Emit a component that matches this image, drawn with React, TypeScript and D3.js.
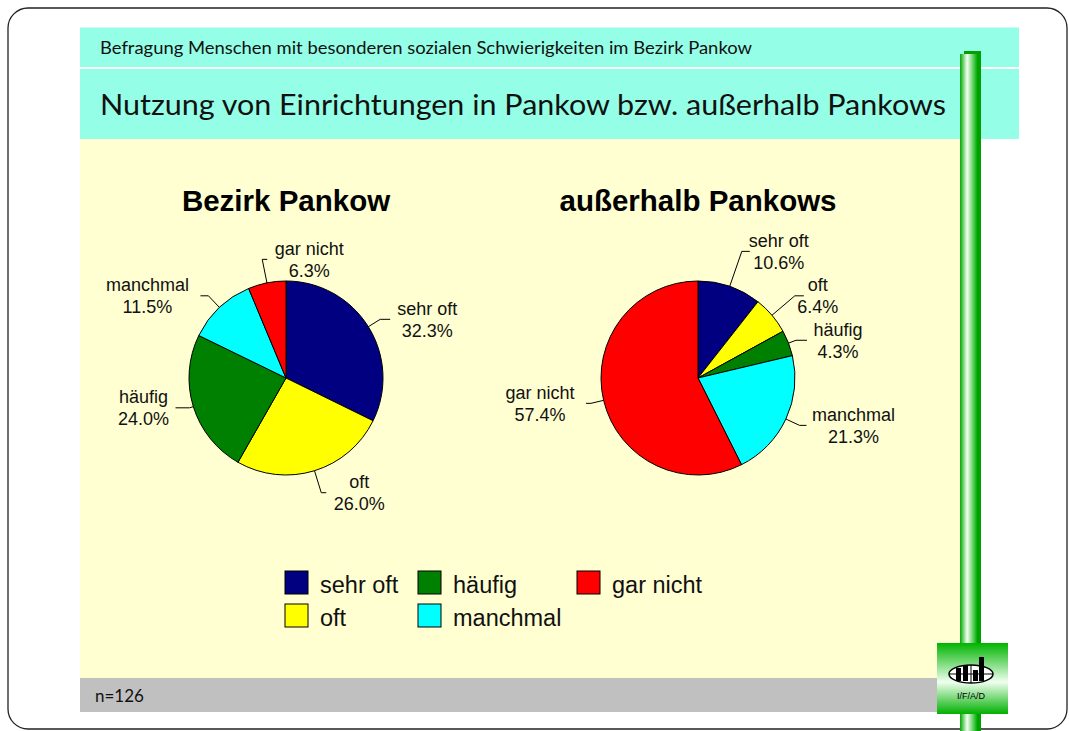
import React from "react";
import * as d3 from "d3";

const categories = ["sehr oft", "oft", "häufig", "manchmal", "gar nicht"];
const pankowValues = [32.3, 26.0, 24.0, 11.5, 6.3];
const outsideValues = [10.6, 6.4, 4.3, 21.3, 57.4];
const sliceColors = ["#000080", "#ffff00", "#008000", "#00ffff", "#ff0000"];
const chartTitles = ["Bezirk Pankow", "außerhalb Pankows"];
const headerSubtitle = "Befragung Menschen mit besonderen sozialen Schwierigkeiten im Bezirk Pankow";
const headerTitle = "Nutzung von Einrichtungen in Pankow bzw. außerhalb Pankows";
const footerText = "n=126";
const legendOrder = [0, 1, 2, 3, 4];

// label layout: radial extension to elbow, side, horizontal tick length, label offset
const labelLayout1 = [
  { ext: 14, side: 1, h: 10, dx: 37 },
  { ext: 23, side: 1, h: 5, dx: 33 },
  { ext: 4, side: -1, h: 14, dx: 32 },
  { ext: 16, side: -1, h: 8, dx: 53 },
  { ext: 24, side: 1, h: 5, dx: 42 },
];
const labelLayout2 = [
  { ext: 37, side: 1, h: 8, dx: 29 },
  { ext: 30, side: 1, h: 9, dx: 14 },
  { ext: 8, side: 1, h: 11, dx: 31 },
  { ext: 15, side: 1, h: 7, dx: 47 },
  { ext: 13, side: -1, h: 5, dx: 46 },
];

const W = 1069;
const H = 731;
const R = 97;
const LABEL_FONT = "'Liberation Sans', Arial, sans-serif";
const HEAD_FONT = "Lato, 'Open Sans', sans-serif";

function Pie({ cx, cy, values, layout, title }: any) {
  const pie = d3.pie<number>().sort(null).value((d) => d).startAngle(0).endAngle(2 * Math.PI);
  const arcs = pie(values);
  const arc = d3.arc<any>().innerRadius(0).outerRadius(R);
  const pt = (a: number, r: number) => [Math.sin(a) * r, -Math.cos(a) * r];
  return (
    <g transform={`translate(${cx},${cy})`}>
      <text x={0} y={-167} textAnchor="middle" fontFamily={LABEL_FONT} fontWeight="bold" fontSize={29.5} fill="#000">
        {title}
      </text>
      {arcs.map((a, i) => (
        <path key={i} d={arc(a) || ""} fill={sliceColors[i]} stroke="#000" strokeWidth={1} strokeLinejoin="round" />
      ))}
      {arcs.map((a, i) => {
        const L = layout[i];
        const mid = (a.startAngle + a.endAngle) / 2;
        const p0 = pt(mid, R);
        const p1 = pt(mid, R + L.ext);
        const p2 = [p1[0] + L.side * L.h, p1[1]];
        const lx = p1[0] + L.side * (L.h + L.dx);
        const ly = p1[1];
        return (
          <g key={"l" + i}>
            <polyline points={`${p0[0]},${p0[1]} ${p1[0]},${p1[1]} ${p2[0]},${p2[1]}`} fill="none" stroke="#000" strokeWidth={1} />
            <text x={lx} y={ly - 4.5} textAnchor="middle" fontFamily={LABEL_FONT} fontSize={18} fill="#111">
              {categories[i]}
            </text>
            <text x={lx} y={ly + 17.5} textAnchor="middle" fontFamily={LABEL_FONT} fontSize={18} fill="#111">
              {values[i].toFixed(1) + "%"}
            </text>
          </g>
        );
      })}
    </g>
  );
}

export default function App() {
  const legendCols = [285, 418, 577];
  const legendRows = [571, 604];
  return (
    <svg width={W} height={H} style={{ position: "absolute", left: 0, top: 0, background: "#fff" }}>
      <defs>
        <linearGradient id="barGrad" x1="0" x2="1" y1="0" y2="0">
          <stop offset="0" stopColor="#00a800" />
          <stop offset="0.42" stopColor="#f4fff4" />
          <stop offset="1" stopColor="#00b000" />
        </linearGradient>
        <linearGradient id="logoGrad" x1="0" x2="0" y1="0" y2="1">
          <stop offset="0" stopColor="#00b400" />
          <stop offset="0.55" stopColor="#f0fff0" />
          <stop offset="1" stopColor="#00b000" />
        </linearGradient>
      </defs>
      <rect x={8} y={8} width={1059} height={721} rx={20} ry={20} fill="#fff" stroke="#222" strokeWidth={1.3} />
      {/* header */}
      <rect x={80} y={27.5} width={939} height={39.5} fill="#94ffe6" />
      <rect x={80} y={69} width={939} height={70} fill="#94ffe6" />
      <text x={100} y={54} fontFamily={HEAD_FONT} fontSize={16.5} fill="#111" textLength={652} lengthAdjust="spacingAndGlyphs">
        {headerSubtitle}
      </text>
      <text x={100} y={115} fontFamily={HEAD_FONT} fontSize={28.5} fill="#111" textLength={846} lengthAdjust="spacingAndGlyphs">
        {headerTitle}
      </text>
      {/* plot area */}
      <rect x={80} y={139} width={880} height={539} fill="#ffffd2" />
      <rect x={80} y={678} width={880} height={34} fill="#c0c0c0" />
      <text x={95} y={702} fontFamily={HEAD_FONT} fontSize={17} fill="#111">
        {footerText}
      </text>
      <Pie cx={286} cy={378} values={pankowValues} layout={labelLayout1} title={chartTitles[0]} />
      <Pie cx={698} cy={378} values={outsideValues} layout={labelLayout2} title={chartTitles[1]} />
      {/* legend */}
      {legendOrder.map((ci, k) => {
        const col = Math.floor(k / 2);
        const row = k % 2;
        const x = legendCols[col];
        const y = legendRows[row];
        return (
          <g key={ci}>
            <rect x={x} y={y} width={23} height={23} fill={sliceColors[ci]} stroke="#000" strokeWidth={1} />
            <text x={x + 35} y={y + 22} fontFamily={LABEL_FONT} fontSize={23.5} fill="#111">
              {categories[ci]}
            </text>
          </g>
        );
      })}
      {/* green bar */}
      <rect x={964} y={51} width={17} height={680} fill="#00a000" />
      <rect x={960} y={54} width={17} height={677} fill="url(#barGrad)" />
      {/* logo */}
      <g>
        <rect x={937} y={643} width={71} height={71} fill="url(#logoGrad)" />
        <ellipse cx={971} cy={674} rx={22} ry={9} fill="#fff" stroke="#000" strokeWidth={1.5} />
        <line x1={949} x2={993} y1={674} y2={674} stroke="#000" strokeWidth={1} />
        <line x1={971} x2={971} y1={665} y2={683} stroke="#000" strokeWidth={1} />
        <rect x={956} y={668} width={5} height={13} fill="#000" />
        <rect x={963} y={665} width={5} height={16} fill="#000" />
        <rect x={973} y={670} width={5} height={11} fill="#000" />
        <rect x={979} y={657} width={5} height={24} fill="#000" />
        <text x={971} y={699} textAnchor="middle" fontFamily={LABEL_FONT} fontSize={9} fill="#000">
          I/F/A/D
        </text>
      </g>
    </svg>
  );
}
